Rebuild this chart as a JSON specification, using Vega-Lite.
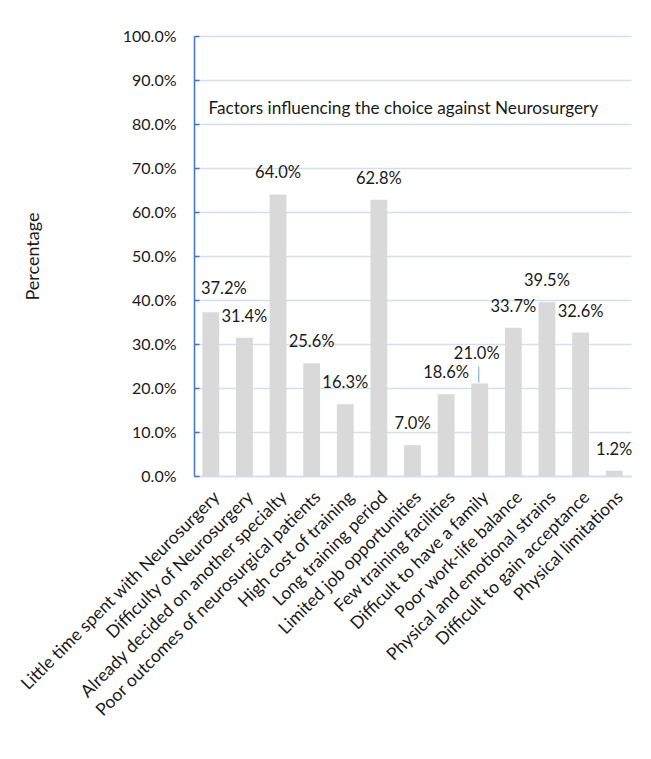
{
  "$schema": "https://vega.github.io/schema/vega-lite/v6.json",
  "width": 437,
  "height": 440,
  "autosize": "none",
  "padding": {"left": 194, "top": 36, "right": 20, "bottom": 283},
  "background": "white",
  "config": {
    "font": "Lato",
    "view": {"stroke": null},
    "axis": {"labelFont": "Lato", "titleFont": "Lato", "labelColor": "#1a1a1a", "titleColor": "#1a1a1a"}
  },
  "datasets": {
    "bars": [
      {"factor": "Little time spent with Neurosurgery", "pct": 0.372},
      {"factor": "Difficulty of Neurosurgery", "pct": 0.314},
      {"factor": "Already decided on another specialty", "pct": 0.640},
      {"factor": "Poor outcomes of neurosurgical patients", "pct": 0.256},
      {"factor": "High cost of training", "pct": 0.163},
      {"factor": "Long training period", "pct": 0.628},
      {"factor": "Limited job opportunities", "pct": 0.070},
      {"factor": "Few training facilities", "pct": 0.186},
      {"factor": "Difficult to have a family", "pct": 0.210},
      {"factor": "Poor work-life balance", "pct": 0.337},
      {"factor": "Physical and emotional strains", "pct": 0.395},
      {"factor": "Difficult to gain acceptance", "pct": 0.326},
      {"factor": "Physical limitations", "pct": 0.012}
    ],
    "note": [
      {"factor": "Little time spent with Neurosurgery", "pct": 0.834, "text": "Factors influencing the choice against Neurosurgery"}
    ]
  },
  "layer": [
    {
      "data": {"name": "bars"},
      "mark": {"type": "bar", "color": "#D9D9D9"},
      "encoding": {
        "x": {
          "field": "factor", "type": "nominal", "sort": null,
          "scale": {"paddingInner": 0.5, "paddingOuter": 0.25},
          "axis": {
            "title": null, "labelAngle": -45, "labelFontSize": 17.5, "ticks": false,
            "domainColor": "#D0DDF0", "domainWidth": 1.5, "labelPadding": 12, "labelLimit": 400
          }
        },
        "y": {
          "field": "pct", "type": "quantitative",
          "scale": {"domain": [0, 1], "nice": false},
          "axis": {
            "title": "Percentage", "titleFontSize": 18, "titleFontWeight": "normal", "titlePadding": 80,
            "format": ".1%", "values": [0, 0.1, 0.2, 0.3, 0.4, 0.5, 0.6, 0.7, 0.8, 0.9, 1.0],
            "labelFontSize": 16, "tickSize": -5, "tickColor": "#4472C4", "tickWidth": 1.5,
            "labelPadding": 23, "domainColor": "#4472C4", "domainWidth": 1.5,
            "grid": true, "gridColor": "#D3DFF1", "gridWidth": 1.5
          }
        }
      }
    },
    {
      "data": {"name": "bars"},
      "transform": [{"filter": "datum.factor !== 'Difficult to have a family' && datum.factor !== 'Little time spent with Neurosurgery'"}],
      "mark": {"type": "text", "fontSize": 16.5, "baseline": "middle", "dy": -21, "color": "#1a1a1a"},
      "encoding": {
        "x": {"field": "factor", "type": "nominal", "sort": null},
        "y": {"field": "pct", "type": "quantitative"},
        "text": {"field": "pct", "type": "quantitative", "format": ".1%"}
      }
    },
    {
      "data": {"name": "bars"},
      "transform": [{"filter": "datum.factor === 'Little time spent with Neurosurgery'"}],
      "mark": {"type": "text", "fontSize": 16.5, "baseline": "middle", "dy": -23, "dx": 13, "color": "#1a1a1a"},
      "encoding": {
        "x": {"field": "factor", "type": "nominal", "sort": null},
        "y": {"field": "pct", "type": "quantitative"},
        "text": {"field": "pct", "type": "quantitative", "format": ".1%"}
      }
    },
    {
      "data": {"name": "bars"},
      "transform": [{"filter": "datum.factor === 'Difficult to have a family'"}],
      "mark": {"type": "text", "fontSize": 16.5, "baseline": "middle", "dy": -30, "dx": -3, "color": "#1a1a1a"},
      "encoding": {
        "x": {"field": "factor", "type": "nominal", "sort": null},
        "y": {"field": "pct", "type": "quantitative"},
        "text": {"field": "pct", "type": "quantitative", "format": ".1%"}
      }
    },
    {
      "data": {"name": "bars"},
      "transform": [{"filter": "datum.factor === 'Difficult to have a family'"}],
      "mark": {"type": "rule", "color": "#8FB0DC", "strokeWidth": 1.2, "yOffset": -17, "y2Offset": -1, "xOffset": -1},
      "encoding": {
        "x": {"field": "factor", "type": "nominal", "sort": null},
        "y": {"field": "pct", "type": "quantitative"},
        "y2": {"field": "pct"}
      }
    },
    {
      "data": {"name": "note"},
      "mark": {"type": "text", "fontSize": 17.2, "align": "left", "baseline": "middle", "dx": 6, "color": "#1a1a1a"},
      "encoding": {
        "x": {"field": "factor", "type": "nominal", "sort": null, "bandPosition": 0},
        "y": {"field": "pct", "type": "quantitative"},
        "text": {"field": "text"}
      }
    }
  ]
}
